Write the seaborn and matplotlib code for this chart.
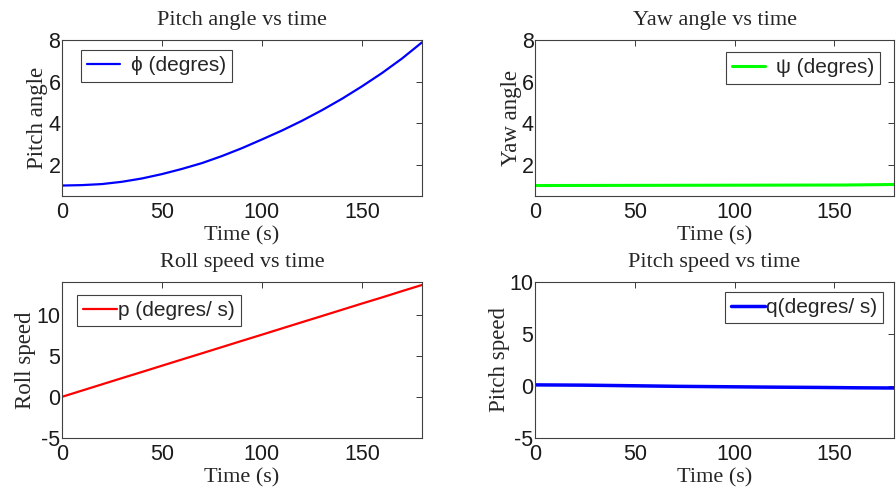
import numpy as np
import pandas as pd
import matplotlib
matplotlib.use("Agg")
import matplotlib.pyplot as plt
import seaborn as sns

# time axis (s)
time = [0, 10, 20, 30, 40, 50, 60, 70, 80, 90, 100, 110, 120, 130, 140, 150, 160, 170, 180]
pitch_angle = [1.0, 1.02, 1.07, 1.18, 1.34, 1.55, 1.8, 2.08, 2.42, 2.8, 3.22, 3.65, 4.12, 4.63, 5.18, 5.78, 6.42, 7.12, 7.9]
roll_speed = [0.0, 0.76, 1.52, 2.28, 3.03, 3.79, 4.55, 5.3, 6.06, 6.82, 7.57, 8.33, 9.09, 9.84, 10.6, 11.36, 12.1, 12.87, 13.62]

# yaw angle and pitch speed are step-like
yaw_time = [0, 155, 155, 180]
yaw_angle = [1.0, 1.0, 1.05, 1.05]
q_time = [0, 24, 24, 50, 50, 72, 72, 97, 97, 118, 118, 142, 142, 162, 162, 180]
pitch_speed = [0.1, 0.1, 0.05, 0.05, -0.02, -0.02, -0.06, -0.06, -0.1, -0.1, -0.13, -0.13, -0.16, -0.16, -0.2, -0.2]

titles = ["Pitch angle vs time", "Yaw angle vs time", "Roll speed vs time", "Pitch speed vs time"]
ylabels = ["Pitch angle", "Yaw angle", "Roll speed", "Pitch speed"]
legends = ["\u03d5 (degres)", "\u03c8 (degres)", "p (degres/ s)", "q(degres/ s)"]

sns.set_style("white")
plt.rcParams['font.family'] = ['Liberation Sans', 'DejaVu Sans']
plt.rcParams['xtick.direction'] = 'in'
plt.rcParams['ytick.direction'] = 'in'
plt.rcParams['axes.unicode_minus'] = False

fig = plt.figure(figsize=(8.96, 4.91), dpi=100)
ax1 = fig.add_axes([0.069, 0.601, 0.402, 0.317])
ax2 = fig.add_axes([0.597, 0.601, 0.401, 0.317])
ax3 = fig.add_axes([0.069, 0.108, 0.402, 0.318])
ax4 = fig.add_axes([0.597, 0.108, 0.401, 0.318])

sns.lineplot(x=time, y=pitch_angle, ax=ax1, color="#0000ff", lw=1.6, label=legends[0])
sns.lineplot(x=yaw_time, y=yaw_angle, ax=ax2, color="#00ff00", lw=2.2, label=legends[1], sort=False)
sns.lineplot(x=time, y=roll_speed, ax=ax3, color="#ff0000", lw=1.6, label=legends[2])
sns.lineplot(x=q_time, y=pitch_speed, ax=ax4, color="#0000ff", lw=2.5, label=legends[3], sort=False)

ax1.set_ylim(0.5, 8)
ax1.set_yticks([2, 4, 6, 8])
ax2.set_ylim(0.5, 8)
ax2.set_yticks([2, 4, 6, 8])
ax3.set_ylim(-5, 14)
ax3.set_yticks([-5, 0, 5, 10])
ax4.set_ylim(-5, 10)
ax4.set_yticks([-5, 0, 5, 10])

locs = ["upper left", "upper right", "upper left", "upper right"]
anchors = [(0.053, 0.936), (0.961, 0.923), (0.042, 0.917), (0.969, 0.936)]
textpads = [0.5, 0.5, 0.05, 0.05]
for i, ax in enumerate([ax1, ax2, ax3, ax4]):
    ax.set_xlim(0, 180)
    ax.set_xticks([0, 50, 100, 150])
    ax.tick_params(labelsize=15.5, top=True, right=True, length=4, width=0.6, colors="#1a1a1a")
    ax.tick_params(axis="x", pad=4.5)
    ax.tick_params(axis="y", pad=1)
    for s in ax.spines.values():
        s.set_color("#404040")
        s.set_linewidth(0.8)
    ax.set_title(titles[i], family="Liberation Serif", fontsize=16, pad=11)
    ax.set_xlabel("Time (s)", family="Liberation Serif", fontsize=16, labelpad=2)
    ax.set_ylabel(ylabels[i], family="Liberation Serif", fontsize=16.5, labelpad=0)
    leg = ax.legend(loc=locs[i], bbox_to_anchor=anchors[i], fontsize=15, fancybox=False,
                    framealpha=1, edgecolor="#404040", handlelength=1.6,
                    handletextpad=textpads[i], borderaxespad=0, borderpad=0.3)
    leg.get_frame().set_linewidth(0.8)

fig.savefig("out.png", dpi=100)
